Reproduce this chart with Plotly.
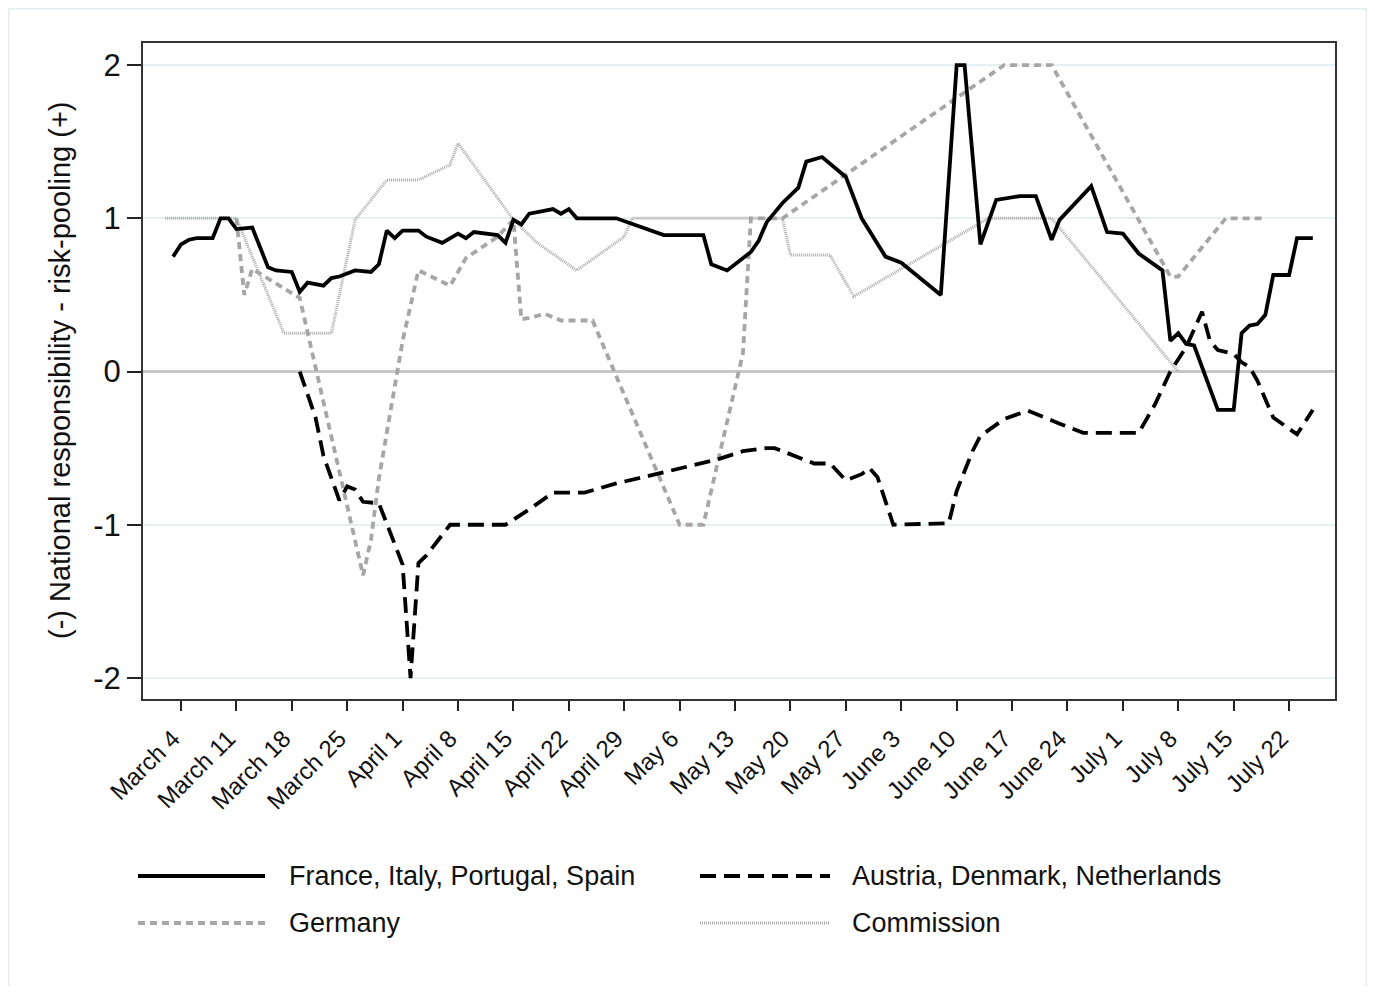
import pandas as pd
import plotly.graph_objects as go

# ---------------- data ----------------
fr_dates = ["2020-03-03","2020-03-04","2020-03-05","2020-03-06","2020-03-08","2020-03-09","2020-03-10","2020-03-11",
            "2020-03-13","2020-03-15","2020-03-16","2020-03-18","2020-03-19","2020-03-20","2020-03-22","2020-03-23",
            "2020-03-24","2020-03-26","2020-03-28","2020-03-29","2020-03-30","2020-03-31","2020-04-01","2020-04-03",
            "2020-04-04","2020-04-06","2020-04-08","2020-04-09","2020-04-10","2020-04-12","2020-04-13","2020-04-14",
            "2020-04-15","2020-04-16","2020-04-17","2020-04-19","2020-04-20","2020-04-21","2020-04-22","2020-04-23",
            "2020-04-28","2020-05-04","2020-05-09","2020-05-10","2020-05-12","2020-05-15","2020-05-16","2020-05-17",
            "2020-05-19","2020-05-21","2020-05-22","2020-05-24","2020-05-27","2020-05-29","2020-06-01","2020-06-03",
            "2020-06-08","2020-06-10","2020-06-11","2020-06-13","2020-06-15","2020-06-18","2020-06-20","2020-06-22",
            "2020-06-23","2020-06-27","2020-06-29","2020-07-01","2020-07-03","2020-07-06","2020-07-07","2020-07-08",
            "2020-07-09","2020-07-10","2020-07-13","2020-07-15","2020-07-16","2020-07-17","2020-07-18","2020-07-19",
            "2020-07-20","2020-07-22","2020-07-23","2020-07-25"]
fr_vals = [0.75,0.83,0.86,0.87,0.87,1.0,1.0,0.93,0.94,0.68,0.66,0.65,0.52,0.58,0.56,0.61,0.62,0.66,0.65,0.70,
           0.92,0.87,0.92,0.92,0.88,0.84,0.90,0.87,0.91,0.90,0.89,0.84,0.99,0.96,1.03,1.05,1.06,1.03,1.06,1.0,
           1.0,0.89,0.89,0.70,0.66,0.78,0.855,0.975,1.10,1.20,1.37,1.40,1.27,1.0,0.75,0.71,0.50,2.0,2.0,0.83,
           1.12,1.145,1.145,0.86,0.99,1.21,0.91,0.90,0.77,0.66,0.20,0.25,0.18,0.17,-0.25,-0.25,0.25,0.30,0.31,0.37,
           0.63,0.63,0.87,0.87]

at_dates = ["2020-03-19","2020-03-21","2020-03-22","2020-03-24","2020-03-25","2020-03-26","2020-03-27","2020-03-29",
            "2020-04-01","2020-04-02","2020-04-03","2020-04-04","2020-04-07","2020-04-14","2020-04-17","2020-04-20",
            "2020-04-24","2020-04-28","2020-05-03","2020-05-07","2020-05-11","2020-05-14","2020-05-17","2020-05-18",
            "2020-05-21","2020-05-23","2020-05-25","2020-05-27","2020-05-29","2020-05-30","2020-05-31","2020-06-02",
            "2020-06-09","2020-06-10","2020-06-12","2020-06-13","2020-06-16","2020-06-19","2020-06-23","2020-06-26",
            "2020-07-03","2020-07-05","2020-07-07","2020-07-09","2020-07-11","2020-07-12","2020-07-13","2020-07-15",
            "2020-07-16","2020-07-17","2020-07-18","2020-07-20","2020-07-23","2020-07-25"]
at_vals = [0.0,-0.30,-0.55,-0.84,-0.75,-0.77,-0.85,-0.86,-1.26,-2.0,-1.25,-1.2,-1.0,-1.0,-0.90,-0.79,
           -0.79,-0.73,-0.67,-0.62,-0.57,-0.52,-0.50,-0.50,-0.56,-0.60,-0.60,-0.71,-0.67,-0.63,-0.69,-1.0,
           -0.99,-0.78,-0.52,-0.42,-0.31,-0.255,-0.34,-0.40,-0.40,-0.22,0.0,0.16,0.39,0.2,0.14,0.115,
           0.06,0.03,-0.06,-0.30,-0.41,-0.25]

de_dates = ["2020-03-11","2020-03-12","2020-03-13","2020-03-19","2020-03-27","2020-03-28","2020-03-29","2020-04-01",
            "2020-04-03","2020-04-07","2020-04-09","2020-04-13","2020-04-15","2020-04-16","2020-04-17","2020-04-19",
            "2020-04-21","2020-04-25","2020-05-06","2020-05-09","2020-05-14","2020-05-15","2020-05-19","2020-06-16",
            "2020-06-22","2020-07-07","2020-07-08","2020-07-14","2020-07-19"]
de_vals = [1.0,0.5,0.67,0.48,-1.33,-1.1,-0.7,0.2,0.66,0.56,0.74,0.88,0.99,0.34,0.35,0.376,
           0.333,0.333,-1.0,-1.0,0.12,1.0,1.0,2.0,2.0,0.62,0.62,1.0,1.0]

cm_dates = ["2020-03-02","2020-03-11","2020-03-17","2020-03-23","2020-03-26","2020-03-30","2020-04-03","2020-04-07",
            "2020-04-08","2020-04-15","2020-04-18","2020-04-23","2020-04-29","2020-04-30","2020-05-19","2020-05-20",
            "2020-05-25","2020-05-28","2020-06-14","2020-06-22","2020-07-08"]
cm_vals = [1.0,1.0,0.25,0.25,0.99,1.25,1.25,1.35,1.49,0.99,0.84,0.66,0.88,1.0,1.0,0.76,
           0.76,0.49,1.0,1.0,0.0]

tick_dates = ["2020-03-04","2020-03-11","2020-03-18","2020-03-25","2020-04-01","2020-04-08","2020-04-15",
              "2020-04-22","2020-04-29","2020-05-06","2020-05-13","2020-05-20","2020-05-27","2020-06-03",
              "2020-06-10","2020-06-17","2020-06-24","2020-07-01","2020-07-08","2020-07-15","2020-07-22"]
tick_labels = ["March 4","March 11","March 18","March 25","April 1","April 8","April 15","April 22",
               "April 29","May 6","May 13","May 20","May 27","June 3","June 10","June 17","June 24",
               "July 1","July 8","July 15","July 22"]

names = ["France, Italy, Portugal, Spain", "Austria, Denmark, Netherlands", "Germany", "Commission"]

# ---------------- styles ----------------
FONT = "Liberation Sans, Arial, sans-serif"
sty = {
    "Commission": dict(color="#ababab", width=3, dash="1px,1px"),
    "Germany": dict(color="#a6a6a6", width=3.8, dash="7px,5px"),
    "Austria, Denmark, Netherlands": dict(color="#000000", width=3.8, dash="16px,8px"),
    "France, Italy, Portugal, Spain": dict(color="#000000", width=3.8, dash="solid"),
}

PW, PH = 1359, 978
ML, MR, MT, MB = 135, 32, 35, 287
plot_w = PW - ML - MR
plot_h = PH - MT - MB


def pxx(xf):
    return (xf - ML) / plot_w


def pxy(yf):
    return (PH - MB - yf) / plot_h


fig = go.Figure()
series = [("Commission", cm_dates, cm_vals), ("Germany", de_dates, de_vals),
          ("Austria, Denmark, Netherlands", at_dates, at_vals),
          ("France, Italy, Portugal, Spain", fr_dates, fr_vals)]
for nm, d, v in series:
    fig.add_trace(go.Scatter(x=pd.to_datetime(d), y=v, mode="lines", name=nm,
                             line=sty[nm], showlegend=False))

x0 = pd.Timestamp("2020-03-04") + pd.Timedelta(days=-4.8)
x1 = pd.Timestamp("2020-03-04") + pd.Timedelta(days=145.8)

fig.update_layout(
    width=PW, height=PH,
    margin=dict(l=ML, r=MR, t=MT, b=MB, autoexpand=False),
    paper_bgcolor="white", plot_bgcolor="white",
    font=dict(family=FONT, color="#111111"),
    showlegend=False,
)
fig.update_xaxes(
    range=[x0, x1], tickvals=pd.to_datetime(tick_dates), ticktext=tick_labels,
    tickangle=-45, tickfont=dict(size=24, family=FONT, color="#111111"),
    ticklabelshift=-8, ticklabelstandoff=4,
    ticks="outside", ticklen=10, tickwidth=1.5, tickcolor="#222222",
    showgrid=False, zeroline=False,
    showline=True, mirror=True, linecolor="#333333", linewidth=2,
)
fig.update_yaxes(
    range=[-2.137, 2.144], tickvals=[-2, -1, 0, 1, 2], ticktext=["-2", "-1", "0", "1", "2"],
    tickfont=dict(size=31, family=FONT, color="#111111"),
    ticks="outside", ticklen=14, tickwidth=1.5, tickcolor="#222222",
    showgrid=True, gridcolor="#e6eff1", gridwidth=1.5,
    zeroline=True, zerolinecolor="#c8c8c8", zerolinewidth=2.5,
    showline=True, mirror=True, linecolor="#333333", linewidth=2,
)

shapes = []
# faint outer frame (left, top, right)
frame = dict(type="line", xref="paper", yref="paper", line=dict(color="#e4ecf0", width=1.5))
shapes.append(dict(frame, x0=pxx(0.7), x1=pxx(0.7), y0=pxy(0.7), y1=pxy(PH)))
shapes.append(dict(frame, x0=pxx(0.7), x1=pxx(PW - 0.7), y0=pxy(0.7), y1=pxy(0.7)))
shapes.append(dict(frame, x0=pxx(PW - 0.7), x1=pxx(PW - 0.7), y0=pxy(0.7), y1=pxy(PH)))

# custom legend (two columns, long line samples)
leg_rows = [868, 915]
leg_cols = [(130, 257, 279), (692, 822, 842)]
leg_layout = [(names[0], 0, 0), (names[1], 0, 1), (names[2], 1, 0), (names[3], 1, 1)]
annotations = []
for nm, r, c in leg_layout:
    lx0, lx1, tx = leg_cols[c]
    yy = leg_rows[r]
    s = sty[nm]
    shapes.append(dict(type="line", xref="paper", yref="paper",
                       x0=pxx(lx0), x1=pxx(lx1), y0=pxy(yy), y1=pxy(yy),
                       line=dict(color=s["color"], width=s["width"], dash=s["dash"])))
    annotations.append(dict(text=nm, xref="paper", yref="paper", x=pxx(tx), y=pxy(yy),
                            xanchor="left", yanchor="middle", showarrow=False,
                            font=dict(size=27, family=FONT, color="#111111")))

# y-axis title
annotations.append(dict(text="(-) National responsibility - risk-pooling (+)", xref="paper", yref="paper",
                        x=pxx(52), y=0.5, textangle=-90, xanchor="center", yanchor="middle",
                        showarrow=False, font=dict(size=29, family=FONT, color="#111111")))

fig.update_layout(shapes=shapes, annotations=annotations)

fig.write_html("out.html")
